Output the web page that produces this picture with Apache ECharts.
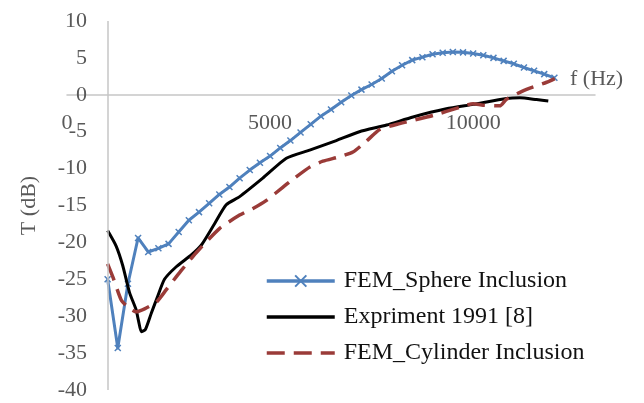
<!DOCTYPE html>
<html><head><meta charset="utf-8">
<script src="https://cdn.jsdelivr.net/npm/echarts@6/dist/echarts.min.js"></script>
<style>html,body{margin:0;padding:0;background:#fff}#c{width:644px;height:403px}</style>
</head><body><div id="c"></div>
<script>
// FEM_Sphere Inclusion
const fSphere = [1000,1250,1500,1750,2000,2250,2500,2750,3000,3250,3500,3750,4000,4250,4500,4750,5000,5250,5500,5750,6000,6250,6500,6750,7000,7250,7500,7750,8000,8250,8500,8750,9000,9250,9500,9750,10000,10250,10500,10750,11000,11250,11500,11750,12000];
const tSphere = [-25.0,-34.3,-25.6,-19.4,-21.3,-20.8,-20.2,-18.6,-17.0,-15.9,-14.7,-13.5,-12.5,-11.3,-10.2,-9.2,-8.3,-7.2,-6.2,-5.1,-4.0,-2.9,-2.0,-1.0,-0.1,0.7,1.4,2.2,3.2,4.0,4.7,5.1,5.5,5.7,5.8,5.75,5.6,5.35,5.0,4.6,4.2,3.7,3.25,2.8,2.3];
// Expriment 1991 [8]
const fExperiment = [1000,1210,1370,1540,1700,1760,1830,1930,2075,2240,2400,2690,3060,3310,3630,3920,4250,4820,5400,5975,6630,7200,7870,8520,9340,10000,10820,11150,11560,11850];
const tExperiment = [-18.4,-20.5,-23.1,-26.8,-29.1,-30.6,-32.1,-31.8,-29.6,-27.2,-25.0,-23.3,-21.7,-20.35,-17.5,-14.9,-13.8,-11.3,-8.6,-7.5,-6.2,-5.0,-4.1,-3.0,-1.9,-1.3,-0.5,-0.4,-0.65,-0.85];
// FEM_Cylinder Inclusion
const fCylinder = [1000,1130,1335,1490,1705,1910,2200,2445,2800,3180,3760,4250,4580,4910,5320,5480,5975,6300,6710,7040,7370,7700,8190,9010,9670,10000,10245,10655,10820,11315,11810,12010];
const tCylinder = [-22.9,-24.7,-27.8,-28.7,-29.4,-29.0,-28.1,-26.4,-23.9,-21.4,-18.1,-16.3,-15.4,-14.3,-12.5,-11.8,-9.8,-9.0,-8.4,-7.75,-6.3,-4.7,-3.9,-2.8,-1.7,-1.2,-1.4,-1.5,-0.6,0.75,1.7,2.2];

const seriesNames = ['FEM_Sphere Inclusion','Expriment 1991 [8]','FEM_Cylinder Inclusion'];
const yAxisCrossAt = 1000; // vertical axis crosses the f axis here
const xMin = 0, xMax = 13000, xStep = 5000;
const yMin = -40, yMax = 10, yStep = 5;

const FONT = 'Liberation Serif';
const AXIS_GRAY = '#C6C6C6';
const TEXT_GRAY = '#595959';
const CLEAR = 'rgba(0,0,0,0)';
const zip = (xs, ys) => xs.map((x, i) => [x, ys[i]]);
const labelStyle = {fontFamily: FONT, fontSize: 22, color: TEXT_GRAY};

const chart = echarts.init(document.getElementById('c'), null, {renderer: 'canvas'});
chart.setOption({
  animation: false,
  backgroundColor: '#fff',
  grid: {left: 67, right: 49, top: 21, bottom: 13, containLabel: false, outerBoundsMode: 'none'},
  xAxis: [
    { // axis line drawn at T = 0
      type: 'value', min: xMin, max: xMax, interval: xStep,
      axisLine: {show: true, onZero: true, lineStyle: {color: AXIS_GRAY, width: 1.5}},
      axisTick: {show: false}, splitLine: {show: false},
      axisLabel: {show: false},
      name: 'f (Hz)', nameLocation: 'end', nameGap: -25,
      nameTextStyle: Object.assign({align: 'left', verticalAlign: 'bottom', padding: [0, 0, 5, 0]}, labelStyle)
    },
    { // tick labels, moved up to sit under the zero line
      type: 'value', min: xMin, max: xMax, interval: xStep, position: 'bottom', offset: 0,
      axisLine: {show: false, onZero: false}, axisTick: {show: false}, splitLine: {show: false},
      axisLabel: Object.assign({margin: 17, showMaxLabel: false, formatter: v => String(v)}, labelStyle)
    }
  ],
  yAxis: {
    type: 'value', min: yMin, max: yMax, interval: yStep,
    axisLine: {show: false}, axisTick: {show: false}, splitLine: {show: false},
    axisLabel: Object.assign({margin: -20, align: 'right'}, labelStyle),
    name: 'T (dB)', nameLocation: 'middle', nameGap: 27, nameRotate: 90,
    nameTextStyle: labelStyle
  },
  legend: {
    orient: 'vertical', left: 260, top: 263,
    itemWidth: 68, itemHeight: 14, itemGap: 10,
    lineStyle: {width: 3.5},
    textStyle: {fontFamily: FONT, fontSize: 24, lineHeight: 26, color: '#111', padding: [0, 0, 0, 4]},
    data: seriesNames
  },
  series: [
    {
      name: seriesNames[0], type: 'line', data: zip(fSphere, tSphere),
      symbol: 'path://M0,0L10,10M10,0L0,10', symbolSize: 6, showSymbol: true,
      itemStyle: {color: '#4F81BD', borderColor: '#4F81BD', borderWidth: 1.5},
      lineStyle: {color: '#4F81BD', width: 3, join: 'round'},
      markLine: {
        silent: true, symbol: 'none', label: {show: false},
        lineStyle: {color: AXIS_GRAY, width: 1.5, type: 'solid'},
        data: [{xAxis: yAxisCrossAt}]
      },
      z: 2
    },
    {
      name: seriesNames[1], type: 'line', data: zip(fExperiment, tExperiment),
      symbol: 'circle', showSymbol: false, smooth: 0.2,
      itemStyle: {color: CLEAR, borderWidth: 0},
      lineStyle: {color: '#000', width: 3, join: 'round'},
      z: 3
    },
    {
      name: seriesNames[2], type: 'line', data: zip(fCylinder, tCylinder),
      symbol: 'circle', showSymbol: false, smooth: 0.2,
      itemStyle: {color: CLEAR, borderWidth: 0},
      lineStyle: {color: '#9A3B38', width: 3.5, type: [18, 9], cap: 'butt'},
      z: 4
    }
  ]
});
// place the label axis right under the T = 0 line
const zeroY = chart.convertToPixel({yAxisIndex: 0}, 0);
const bottomY = chart.convertToPixel({yAxisIndex: 0}, yMin);
chart.setOption({xAxis: [{}, {offset: -(bottomY - zeroY)}]});
</script></body></html>
